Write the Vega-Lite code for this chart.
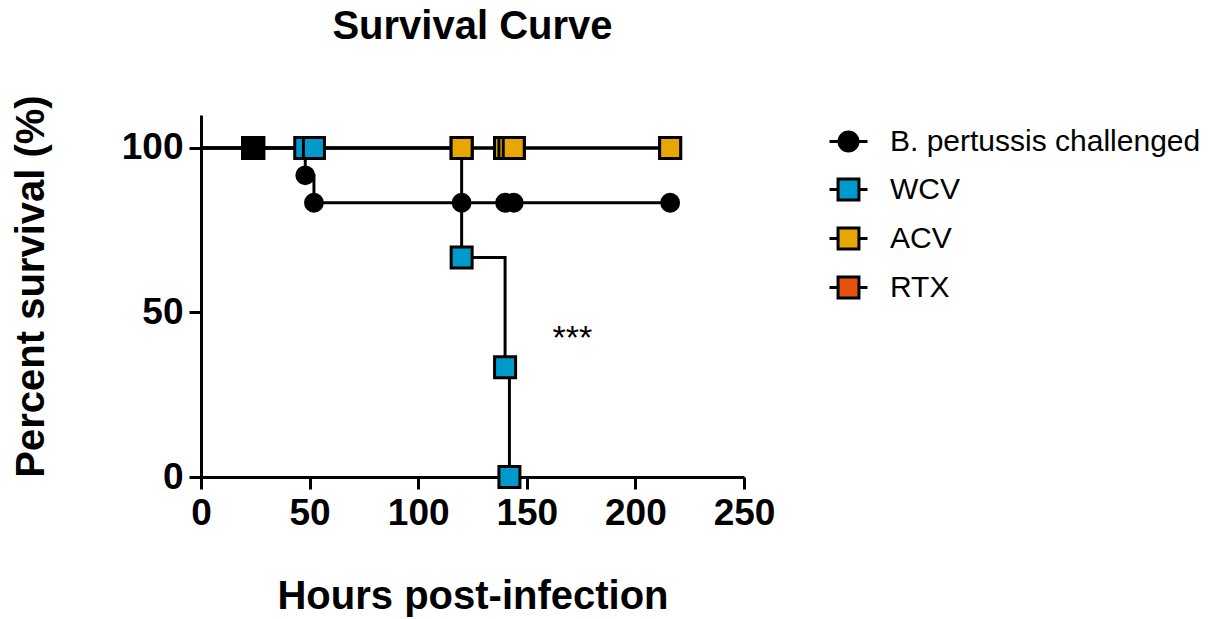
{
  "$schema": "https://vega.github.io/schema/vega-lite/v6.json",
  "autosize": {"type": "none"},
  "padding": {"left": 201, "top": 115, "right": 465, "bottom": 142},
  "width": 543,
  "height": 362,
  "background": "white",
  "title": {"text": "Survival Curve", "font": "Liberation Sans", "fontSize": 40, "fontWeight": "bold", "color": "black", "anchor": "middle", "frame": "group", "baseline": "alphabetic", "offset": 16},
  "config": {
    "view": {"stroke": null},
    "axis": {"grid": false, "domainColor": "black", "domainWidth": 3, "tickColor": "black", "tickWidth": 3, "tickSize": 12, "labelFont": "Liberation Sans", "labelFontSize": 37, "labelFontWeight": "bold", "labelColor": "black", "titleFont": "Liberation Sans", "titleFontSize": 40, "titleFontWeight": "bold", "titleColor": "black", "labelFlush": false, "labelOverlap": false}
  },
  "datasets": {
    "curve": [
      {"group": "RTX", "t": 0, "s": 100}, {"group": "RTX", "t": 216, "s": 100},
      {"group": "ACV", "t": 0, "s": 100}, {"group": "ACV", "t": 216, "s": 100},
      {"group": "WCV", "t": 0, "s": 100}, {"group": "WCV", "t": 120, "s": 66.67}, {"group": "WCV", "t": 140, "s": 33.33}, {"group": "WCV", "t": 142, "s": 0},
      {"group": "B. pertussis challenged", "t": 0, "s": 100}, {"group": "B. pertussis challenged", "t": 48, "s": 91.67}, {"group": "B. pertussis challenged", "t": 52, "s": 83.33}, {"group": "B. pertussis challenged", "t": 216, "s": 83.33}
    ],
    "pts": [
      {"group": "RTX", "t": 24, "s": 100}, {"group": "RTX", "t": 120, "s": 100}, {"group": "RTX", "t": 140, "s": 100}, {"group": "RTX", "t": 144, "s": 100}, {"group": "RTX", "t": 216, "s": 100},
      {"group": "ACV", "t": 24, "s": 100}, {"group": "ACV", "t": 120, "s": 100}, {"group": "ACV", "t": 140, "s": 100}, {"group": "ACV", "t": 142, "s": 100}, {"group": "ACV", "t": 144, "s": 100}, {"group": "ACV", "t": 216, "s": 100},
      {"group": "WCV", "t": 24, "s": 100}, {"group": "WCV", "t": 48, "s": 100}, {"group": "WCV", "t": 52, "s": 100}, {"group": "WCV", "t": 120, "s": 66.67}, {"group": "WCV", "t": 140, "s": 33.33}, {"group": "WCV", "t": 142, "s": 0},
      {"group": "B. pertussis challenged", "t": 24, "s": 100}, {"group": "B. pertussis challenged", "t": 48, "s": 91.67}, {"group": "B. pertussis challenged", "t": 52, "s": 83.33}, {"group": "B. pertussis challenged", "t": 120, "s": 83.33}, {"group": "B. pertussis challenged", "t": 140, "s": 83.33}, {"group": "B. pertussis challenged", "t": 144, "s": 83.33}, {"group": "B. pertussis challenged", "t": 216, "s": 83.33}
    ],
    "annot": [{"t": 171, "s": 39, "label": "***"}]
  },
  "encoding": {
    "x": {"field": "t", "type": "quantitative", "scale": {"domain": [0, 250], "nice": false}, "axis": {"values": [0, 50, 100, 150, 200, 250], "labelPadding": 6, "titlePadding": 45, "title": "Hours post-infection"}},
    "y": {"field": "s", "type": "quantitative", "scale": {"domain": [0, 110], "nice": false}, "axis": {"values": [0, 50, 100], "labelPadding": 6, "titlePadding": 70, "titleY": 171, "title": "Percent survival (%)"}}
  },
  "layer": [
    {
      "data": {"name": "curve"},
      "mark": {"type": "line", "interpolate": "step-after", "color": "black", "strokeWidth": 3, "strokeJoin": "miter"},
      "encoding": {"detail": {"field": "group"}}
    },
    {
      "data": {"name": "pts"},
      "transform": [{"filter": "datum.group !== 'B. pertussis challenged'"}],
      "mark": {"type": "point", "shape": "square", "filled": true, "size": 441, "stroke": "black", "strokeWidth": 3, "opacity": 1},
      "encoding": {
        "color": {
          "field": "group", "type": "nominal",
          "scale": {"domain": ["B. pertussis challenged", "WCV", "ACV", "RTX"], "range": ["#000000", "#0099CC", "#E8A700", "#E3530D"]},
          "legend": {
            "orient": "none", "legendX": 627, "legendY": 6, "title": null, "padding": 0,
            "labelFont": "Liberation Sans", "labelFontSize": 30, "labelColor": "black", "labelLimit": 500,
            "rowPadding": 12, "labelOffset": 21, "symbolSize": 1444, "symbolStrokeWidth": 3, "symbolStrokeColor": "black", "symbolOpacity": 1,
            "encode": {"symbols": {"update": {"shape": {"signal": "datum.value === 'B. pertussis challenged' ? 'M-1,0H-0.5M0.5,0H1M-0.5,0A0.5,0.5,0,1,0,0.5,0A0.5,0.5,0,1,0,-0.5,0Z' : 'M-1,0H-0.55M0.55,0H1M-0.55,-0.55H0.55V0.55H-0.55Z'"}, "stroke": {"value": "black"}, "strokeWidth": {"value": 3}}}}
          }
        }
      }
    },
    {
      "data": {"name": "pts"},
      "transform": [{"filter": "datum.group === 'B. pertussis challenged' && datum.t !== 24"}],
      "mark": {"type": "point", "shape": "circle", "filled": true, "size": 283, "color": "black", "stroke": "black", "strokeWidth": 3, "opacity": 1}
    },
    {
      "data": {"name": "pts"},
      "transform": [{"filter": "datum.group === 'B. pertussis challenged' && datum.t === 24"}],
      "mark": {"type": "point", "shape": "square", "filled": true, "size": 441, "color": "black", "stroke": "black", "strokeWidth": 3, "opacity": 1}
    },
    {
      "data": {"name": "annot"},
      "mark": {"type": "text", "font": "Liberation Sans", "fontSize": 34, "baseline": "alphabetic", "align": "center", "color": "black"},
      "encoding": {"text": {"field": "label"}}
    }
  ]
}
